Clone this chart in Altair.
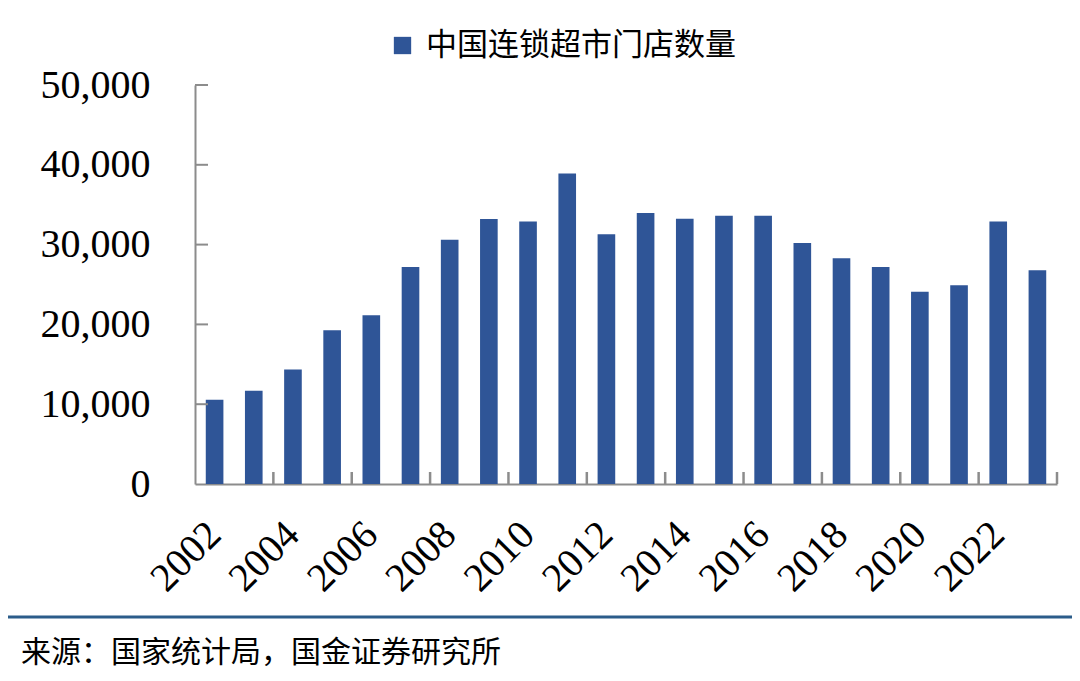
import altair as alt
import pandas as pd

years = [str(y) for y in range(2002, 2024)]
stores = [10550, 11690, 14340, 19260, 21150, 27200, 30600, 33200, 32900, 38900, 31300,
          33960, 33250, 33600, 33600, 30200, 28300, 27200, 24100, 24900, 32900, 26800]
series_name = "中国连锁超市门店数量"
y_ticks = [0, 10000, 20000, 30000, 40000, 50000]
x_label_years = [str(y) for y in range(2002, 2024, 2)]
x_tick_years = [str(y) for y in range(2003, 2024, 2)]
source_text = "来源：国家统计局，国金证券研究所"

W, H = 862, 399
STEP = W / len(years)
BAR = "#2F5597"
AXIS = "#8C8C8C"

df = pd.DataFrame({"year": years, "value": stores, "series": series_name})

xscale = alt.Scale(domain=years, paddingInner=0.55, paddingOuter=0.275)
yscale = alt.Scale(domain=[0, 50000])

xaxis = alt.Axis(values=x_label_years, title=None, labelAngle=-45,
                 labelAlign="right", labelBaseline="middle",
                 labelFont="Liberation Serif", labelFontSize=40,
                 labelColor="#000000", labelPadding=44, tickSize=0,
                 domainColor=AXIS, domainWidth=2)
yaxis = alt.Axis(values=y_ticks, format=",.0f", title=None, grid=False,
                 labelFont="Liberation Serif", labelFontSize=40,
                 labelColor="#000000", labelPadding=45, tickSize=0,
                 domainColor=AXIS, domainWidth=2)

bars = alt.Chart(df).mark_bar().encode(
    x=alt.X("year:O", scale=xscale, sort=years, axis=xaxis),
    y=alt.Y("value:Q", scale=yscale, axis=yaxis),
    color=alt.Color("series:N", scale=alt.Scale(range=[BAR]),
                    legend=alt.Legend(orient="none", legendX=192, legendY=-55,
                                      title=None, symbolType="square",
                                      symbolSize=300, symbolStrokeWidth=0,
                                      labelFont="Noto Sans CJK SC", labelFontSize=31,
                                      labelLimit=0,
                                      labelColor="#000000", padding=0, labelOffset=8)),
)

yt = pd.DataFrame({"v": y_ticks[1:]})
ytick_rules = alt.Chart(yt).mark_rule(color=AXIS, strokeWidth=2).encode(
    y=alt.Y("v:Q", scale=yscale, axis=yaxis), x=alt.value(0), x2=alt.value(13)
)

xt = pd.DataFrame({"year": x_tick_years})
xtick_rules = alt.Chart(xt).mark_rule(color=AXIS, strokeWidth=2.5, xOffset=STEP / 2).encode(
    x=alt.X("year:O", scale=xscale, sort=years, axis=xaxis),
    y=alt.value(H), y2=alt.value(H - 12)
)

foot = pd.DataFrame({"t": [source_text]})
foot_line = alt.Chart(foot).mark_rule(color="#2B5C8A", strokeWidth=3).encode(
    x=alt.value(-195), x2=alt.value(885), y=alt.value(532)
)
foot_text = alt.Chart(foot).mark_text(align="left", baseline="middle",
                                      font="Noto Sans CJK SC", fontSize=30,
                                      color="#000000").encode(
    text="t:N", x=alt.value(-174), y=alt.value(568)
)

chart = alt.layer(bars, ytick_rules, xtick_rules, foot_line, foot_text).properties(
    width=W, height=H,
    background="#ffffff",
    autosize=alt.AutoSizeParams(type="none"),
    padding={"left": 187, "top": 77, "right": 15, "bottom": 189},
).configure_view(strokeWidth=0, stroke=None)

chart.save("out.html", embed_options={"renderer": "svg", "actions": False})
